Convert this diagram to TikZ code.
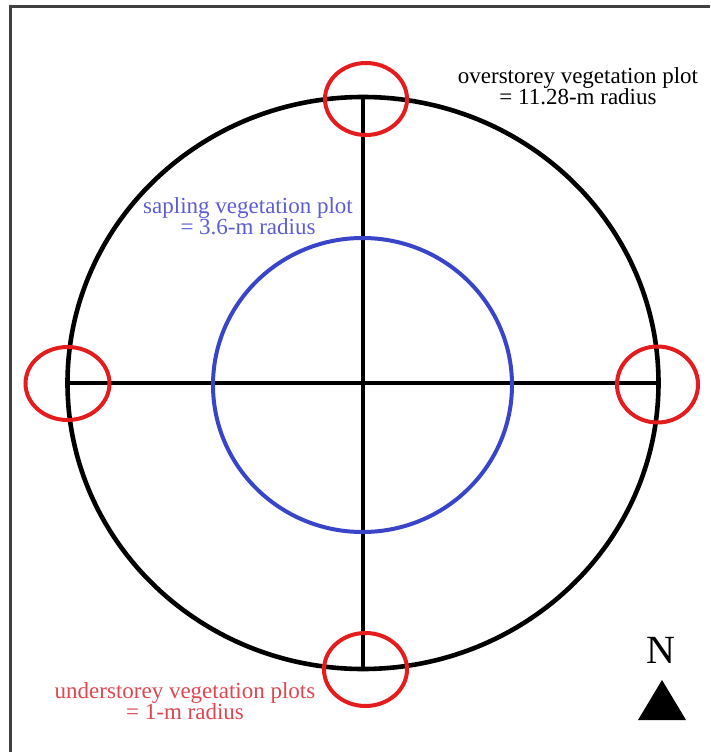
\documentclass[tikz,border=0pt]{standalone}
\usepackage{fontspec}
\setmainfont{Liberation Serif}
\definecolor{plotred}{RGB}{228,28,30}
\definecolor{labred}{RGB}{222,70,80}
\definecolor{plotblue}{RGB}{58,68,200}
\definecolor{labblue}{RGB}{92,92,214}
\begin{document}
\begin{tikzpicture}[x=1pt,y=-1pt,
  frame/.style={line width=2.6pt,draw=black!75},
  outer/.style={line width=4.6pt,draw=black},
  axis/.style={line width=4.6pt,draw=black},
  sap/.style={line width=4pt,draw=plotblue},
  under/.style={line width=4pt,draw=plotred},
  lab/.style={align=center,inner sep=0pt,font=\fontsize{23}{21}\selectfont}]
\useasboundingbox (0,0) rectangle (710,752);
\draw[frame] (10.5,752) -- (10.5,6.5) -- (710,6.5);
\coordinate (c) at (363,383);
\coordinate (n) at (363,97);
\coordinate (s) at (363,669);
\coordinate (w) at (67,383);
\coordinate (e) at (658,383);
\draw[outer] (c) ellipse [x radius=295.5, y radius=286];
\draw[axis] (w) -- (e);
\draw[axis] (n) -- (s);
\draw[sap] (362.5,385) ellipse [x radius=149.5, y radius=147];
\draw[under] (366,99) ellipse [x radius=41, y radius=36];
\draw[under] (365.5,669.5) ellipse [x radius=41.5, y radius=36.5];
\draw[under] (67.5,383.5) ellipse [x radius=42, y radius=36.5];
\draw[under] (657.5,384.5) ellipse [x radius=40.5, y radius=38];
\node[lab,text=black] (overlab) at (578,86) {overstorey vegetation plot\\= 11.28-m radius};
\node[lab,text=labblue] (saplab) at (248,216) {sapling vegetation plot\\= 3.6-m radius};
\node[lab,text=labred] (underlab) at (185,701) {understorey vegetation plots\\= 1-m radius};
\node[inner sep=0pt,font=\fontsize{40}{40}\selectfont] (north) at (661,650) {N};
\fill (638,720) -- (662,680) -- (686,720) -- cycle;
\end{tikzpicture}
\end{document}
